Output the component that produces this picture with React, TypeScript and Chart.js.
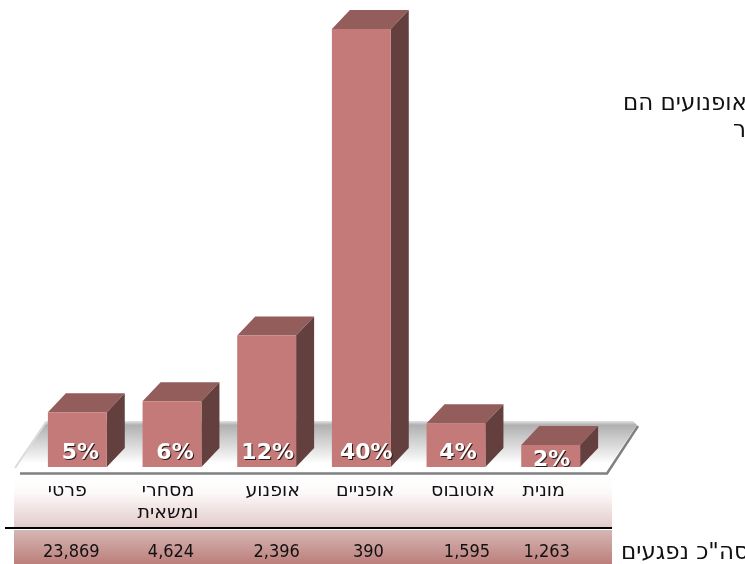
import React, { useEffect, useRef } from "react";
import { Chart, registerables } from "chart.js";

Chart.register(...registerables);

const categories: (string | string[])[] = ["פרטי", ["מסחרי", "ומשאית"], "אופנוע", "אופניים", "אוטובוס", "מונית"];
const percentages = [5, 6, 12, 40, 4, 2];
const totals = ["23,869", "4,624", "2,396", "390", "1,595", "1,263"];
const totalsLabel = 'סה"כ נפגעים';
const noteLines = ["אופנועים הם", "ר"];

const labelShift = [-10, -4, 6, 4, 7, -7];
const totalShift = [-6, -1, 10, 7, 11, -4];
const percentShift = [3, 3, 1, 5, 2, 1];
const DEPTH_X = 18;
const DEPTH_Y = 19;
const FONT = '"DejaVu Sans", sans-serif';
const NUM_FONT = '"DejaVu Sans Condensed", "DejaVu Sans", sans-serif';

const backdrop = {
  id: "backdrop",
  beforeDatasetsDraw(chart: Chart) {
    const { ctx } = chart;
    ctx.save();
    let g = ctx.createLinearGradient(0, 475, 0, 527);
    g.addColorStop(0, "#ffffff");
    g.addColorStop(0.35, "#fdf9f9");
    g.addColorStop(1, "#e2cbca");
    ctx.fillStyle = g;
    ctx.fillRect(14, 475, 598, 53);
    g = ctx.createLinearGradient(0, 530, 0, 564);
    g.addColorStop(0, "#d6b6b4");
    g.addColorStop(1, "#bc7f7b");
    ctx.fillStyle = g;
    ctx.fillRect(14, 530, 598, 34);
    ctx.fillStyle = "#000";
    ctx.fillRect(5, 527, 607, 2);

    ctx.strokeStyle = "#808080";
    ctx.lineWidth = 2.5;
    ctx.beginPath();
    ctx.moveTo(20, 473.5);
    ctx.lineTo(607, 473.5);
    ctx.lineTo(638, 426);
    ctx.stroke();

    ctx.beginPath();
    ctx.moveTo(14, 468);
    ctx.lineTo(46, 421);
    ctx.lineTo(633, 421);
    ctx.lineTo(637, 425);
    ctx.lineTo(606, 471);
    ctx.lineTo(20, 471);
    ctx.closePath();
    g = ctx.createLinearGradient(0, 421, 0, 471);
    g.addColorStop(0, "#e4e4e4");
    g.addColorStop(0.08, "#b0b0b0");
    g.addColorStop(0.85, "#ffffff");
    g.addColorStop(1, "#ffffff");
    ctx.fillStyle = g;
    ctx.fill();
    ctx.strokeStyle = "#dcdcdc";
    ctx.lineWidth = 2;
    ctx.beginPath();
    ctx.moveTo(15, 468);
    ctx.lineTo(46, 422);
    ctx.stroke();

    chart.getDatasetMeta(0).data.forEach((bar: any) => {
      const half = bar.width / 2;
      const l = bar.x - half;
      const r = bar.x + half;
      ctx.fillStyle = "#935d5b";
      ctx.beginPath();
      ctx.moveTo(l, bar.y);
      ctx.lineTo(l + DEPTH_X, bar.y - DEPTH_Y);
      ctx.lineTo(r + DEPTH_X, bar.y - DEPTH_Y);
      ctx.lineTo(r, bar.y);
      ctx.closePath();
      ctx.fill();
      ctx.fillStyle = "#633f3d";
      ctx.beginPath();
      ctx.moveTo(r, bar.y);
      ctx.lineTo(r + DEPTH_X, bar.y - DEPTH_Y);
      ctx.lineTo(r + DEPTH_X, bar.base - DEPTH_Y);
      ctx.lineTo(r, bar.base);
      ctx.closePath();
      ctx.fill();
    });
    ctx.restore();
  },
};

const annotations = {
  id: "annotations",
  afterDatasetsDraw(chart: Chart) {
    const { ctx } = chart;
    const x = chart.scales.x;
    ctx.save();
    ctx.textAlign = "center";
    ctx.textBaseline = "middle";
    ctx.fillStyle = "#111";
    ctx.font = `19px ${FONT}`;
    categories.forEach((c, i) => {
      const lines = Array.isArray(c) ? c : [c];
      lines.forEach((line, j) => {
        ctx.fillText(line, x.getPixelForValue(i) + labelShift[i], 491 + j * 22);
      });
    });
    ctx.font = `18px ${NUM_FONT}`;
    totals.forEach((t, i) => {
      ctx.fillText(t, x.getPixelForValue(i) + totalShift[i], 552);
    });
    ctx.font = `23px ${FONT}`;
    ctx.textAlign = "left";
    ctx.fillText(totalsLabel, 621, 553);
    ctx.fillText(noteLines[0], 623, 104);
    ctx.fillText(noteLines[1], 733, 131);

    ctx.textAlign = "center";
    ctx.font = `bold 22px ${FONT}`;
    percentages.forEach((p, i) => {
      const label = `${p}%`;
      const px = x.getPixelForValue(i) + percentShift[i];
      const py = p === 2 ? 460 : 453;
      ctx.fillStyle = "#2a1a1a";
      ctx.fillText(label, px + 1, py + 1);
      ctx.fillStyle = "#ffffff";
      ctx.fillText(label, px, py);
    });
    ctx.restore();
  },
};

export default function App() {
  const ref = useRef<HTMLCanvasElement>(null);
  useEffect(() => {
    document.body.style.margin = "0";
    document.body.style.overflow = "hidden";
    const chart = new Chart(ref.current!, {
      type: "bar",
      data: {
        labels: categories as any,
        datasets: [
          {
            data: percentages,
            backgroundColor: "#c47a78",
            barPercentage: 0.622,
            categoryPercentage: 1,
          },
        ],
      },
      options: {
        responsive: false,
        animation: false,
        layout: { padding: { left: 30, right: 147, top: 29, bottom: 97 } },
        plugins: { legend: { display: false }, tooltip: { enabled: false }, title: { display: false } },
        scales: {
          x: { display: false, grid: { display: false } },
          y: { display: false, min: 0, max: 40, grid: { display: false } },
        },
      },
      plugins: [backdrop, annotations],
    });
    return () => chart.destroy();
  }, []);
  return <canvas ref={ref} width={745} height={564} style={{ display: "block" }} />;
}
